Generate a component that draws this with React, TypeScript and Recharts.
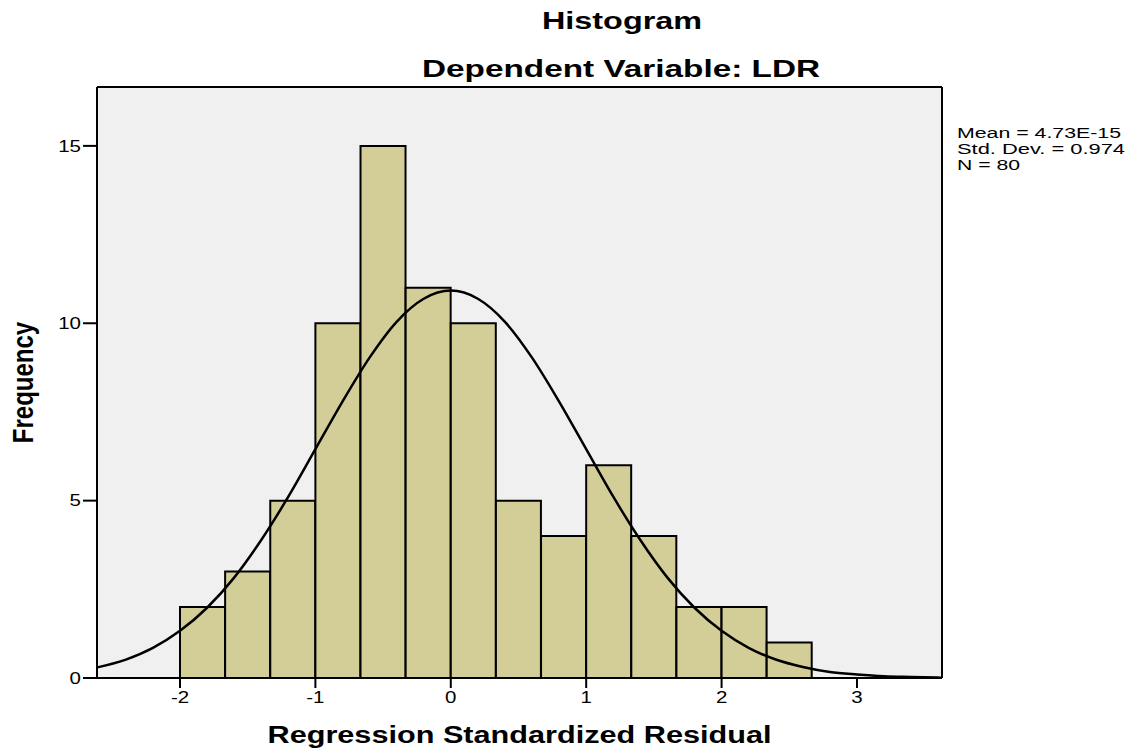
import React from "react";
import {
  ComposedChart,
  Bar,
  Line,
  XAxis,
  YAxis,
  CartesianGrid,
  Label,
} from "recharts";

// Histogram bins (bin width 1/3), x = bin midpoint
const binMids = [
  -1.8333, -1.5, -1.1667, -0.8333, -0.5, -0.1667, 0.1667, 0.5, 0.8333, 1.1667,
  1.5, 1.8333, 2.1667, 2.5,
];
const binCounts = [2, 3, 5, 10, 15, 11, 10, 5, 4, 6, 4, 2, 2, 1];

// Normal curve
const curveX = [
  -2.61, -2.4, -2.2, -2.0, -1.8, -1.6, -1.4, -1.2, -1.0, -0.8, -0.6, -0.4, -0.2,
  0, 0.2, 0.4, 0.6, 0.8, 1.0, 1.2, 1.4, 1.6, 1.8, 2.0, 2.2, 2.4, 2.6, 2.8, 3.0,
  3.2, 3.4, 3.62,
];
const curveY = [
  0.3, 0.52, 0.85, 1.33, 1.98, 2.83, 3.89, 5.11, 6.45, 7.79, 9.03, 10.04,
  10.69, 10.92, 10.69, 10.04, 9.03, 7.79, 6.45, 5.11, 3.89, 2.83, 1.98, 1.33,
  0.85, 0.52, 0.31, 0.17, 0.1, 0.05, 0.03, 0.01,
];

const xTicks = [-2, -1, 0, 1, 2, 3];
const yTicks = [0, 5, 10, 15];
const xDomain: [number, number] = [-2.613, 3.628];
const yDomain: [number, number] = [0, 16.66];

const titleLines = ["Histogram", "Dependent Variable: LDR"];
const statLines = ["Mean = 4.73E-15", "Std. Dev. = 0.974", "N = 80"];
const statWidths = [164, 168, 63];
const xLabel = "Regression Standardized Residual";
const yLabel = "Frequency";

const barData = binMids.map((m, i) => ({ mid: m, count: binCounts[i] }));
const curveData = curveX.map((x, i) => ({ x, y: curveY[i] }));

const FONT = '"Liberation Sans", Arial, Helvetica, sans-serif';
const STRETCH = 1.28;

const XTick = (props: any) => {
  const { x, y, payload } = props;
  return (
    <text
      transform={`translate(${x},${y}) scale(${STRETCH},1)`}
      textAnchor="middle"
      dy="0.71em"
      fontSize={16}
      fontFamily={FONT}
      fill="#000"
    >
      {payload.value}
    </text>
  );
};

const YTick = (props: any) => {
  const { x, y, payload } = props;
  return (
    <text
      transform={`translate(${x},${y}) scale(${STRETCH},1)`}
      textAnchor="end"
      dy="0.355em"
      fontSize={16}
      fontFamily={FONT}
      fill="#000"
    >
      {payload.value}
    </text>
  );
};

export default function App() {
  const W = 1143;
  const H = 754;
  return (
    <div
      style={{
        position: "absolute",
        left: 0,
        top: 0,
        width: W,
        height: H,
        background: "#fff",
      }}
    >
      <ComposedChart
        width={W}
        height={H}
        data={barData}
        margin={{ top: 87, right: 201, left: 0, bottom: 0 }}
        barCategoryGap={0}
        barGap={0}
      >
        <CartesianGrid
          xAxisId="bars"
          fill="#F0F0F0"
          fillOpacity={1}
          stroke="#000"
          strokeWidth={2}
          horizontalCoordinatesGenerator={({ offset }: any) => [
            offset.top,
            offset.top + offset.height,
          ]}
          verticalCoordinatesGenerator={({ offset }: any) => [
            offset.left,
            offset.left + offset.width,
          ]}
        />
        <XAxis
          xAxisId="bars"
          type="number"
          dataKey="mid"
          domain={xDomain}
          allowDataOverflow
          ticks={xTicks}
          interval={0}
          height={76}
          tickSize={10}
          tickMargin={4}
          axisLine={{ stroke: "#000", strokeWidth: 2 }}
          tickLine={{ stroke: "#000", strokeWidth: 2 }}
          tick={<XTick />}
        >
          <Label
            content={({ viewBox }: any) => (
              <text
                x={viewBox.x + viewBox.width / 2}
                y={viewBox.y + 65}
                textAnchor="middle"
                fontSize={23}
                fontWeight="bold"
                fontFamily={FONT}
                textLength={504}
                lengthAdjust="spacingAndGlyphs"
                fill="#000"
              >
                {xLabel}
              </text>
            )}
          />
        </XAxis>
        <XAxis
          xAxisId="curve"
          type="number"
          dataKey="x"
          domain={xDomain}
          allowDataOverflow
          hide
        />
        <YAxis
          type="number"
          domain={yDomain}
          allowDataOverflow
          ticks={yTicks}
          interval={0}
          width={97}
          tickSize={14}
          tickMargin={2}
          axisLine={{ stroke: "#000", strokeWidth: 2 }}
          tickLine={{ stroke: "#000", strokeWidth: 2 }}
          tick={<YTick />}
        >
          <Label
            content={({ viewBox }: any) => (
              <text
                transform={`translate(${viewBox.x + 33},${
                  viewBox.y + viewBox.height / 2
                }) scale(1.25,1) rotate(-90)`}
                textAnchor="middle"
                fontSize={24}
                fontWeight="bold"
                fontFamily={FONT}
                fill="#000"
              >
                {yLabel}
              </text>
            )}
          />
        </YAxis>
        <Bar
          xAxisId="bars"
          dataKey="count"
          fill="#D3CE97"
          stroke="#000"
          strokeWidth={2}
          isAnimationActive={false}
        />
        <Line
          xAxisId="curve"
          data={curveData}
          dataKey="y"
          type="monotone"
          stroke="#000"
          strokeWidth={2.5}
          dot={false}
          activeDot={false}
          isAnimationActive={false}
        />
      </ComposedChart>
      <svg
        width={W}
        height={H}
        style={{ position: "absolute", left: 0, top: 0, pointerEvents: "none" }}
      >
        <text
          x={622}
          y={29}
          textAnchor="middle"
          fontSize={23}
          fontWeight="bold"
          fontFamily={FONT}
          textLength={160}
          lengthAdjust="spacingAndGlyphs"
        >
          {titleLines[0]}
        </text>
        <text
          x={621}
          y={77}
          textAnchor="middle"
          fontSize={23}
          fontWeight="bold"
          fontFamily={FONT}
          textLength={398}
          lengthAdjust="spacingAndGlyphs"
        >
          {titleLines[1]}
        </text>
        {statLines.map((s, i) => (
          <text
            key={s}
            x={957}
            y={138 + i * 16}
            fontSize={14}
            fontFamily={FONT}
            textLength={statWidths[i]}
            lengthAdjust="spacingAndGlyphs"
          >
            {s}
          </text>
        ))}
      </svg>
    </div>
  );
}
